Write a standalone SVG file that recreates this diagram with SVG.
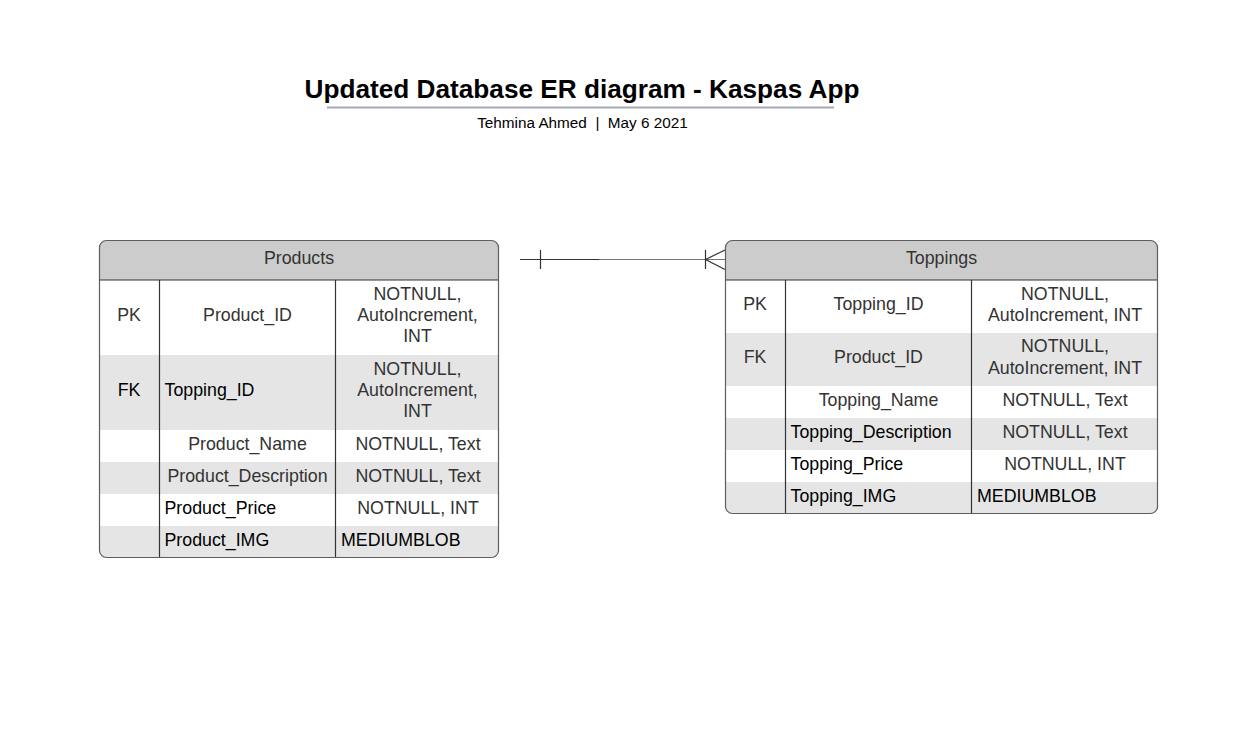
<svg xmlns="http://www.w3.org/2000/svg" width="1259" height="737" viewBox="0 0 1259 737">
<style>
text{font-family:"Liberation Sans",Arial,sans-serif;}
.t{font-size:17.8px;fill:#333333;}
.k{font-size:17.8px;fill:#000000;}
.c{text-anchor:middle;}
.hdr{fill:#cccccc;}
.alt{fill:#e5e5e5;}
.frame{fill:none;stroke:#5e5e5e;stroke-width:1.2;}
.div{stroke:#333333;stroke-width:1.2;}
.conn{fill:none;stroke:#333333;stroke-width:1.2;}
</style>
<rect width="1259" height="737" fill="#ffffff"/>
<g id="title">
<text x="582" y="98" text-anchor="middle" font-size="26.2" font-weight="bold" fill="#000">Updated Database ER diagram - Kaspas App</text>
<line x1="327" y1="107.5" x2="834" y2="107.5" stroke="#a3a9b5" stroke-width="2"/>
<text x="582.5" y="128" text-anchor="middle" font-size="15.3" fill="#000" xml:space="preserve">Tehmina Ahmed  |  May 6 2021</text>
</g>
<g id="products">
<clipPath id="cp1"><rect x="99.5" y="240.5" width="399" height="317" rx="7"/></clipPath>
<g clip-path="url(#cp1)">
<rect x="99" y="240" width="400" height="40" class="hdr"/>
<rect x="99" y="280" width="400" height="75" fill="#fff"/>
<rect x="99" y="355" width="400" height="75" class="alt"/>
<rect x="99" y="430" width="400" height="32" fill="#fff"/>
<rect x="99" y="462" width="400" height="32" class="alt"/>
<rect x="99" y="494" width="400" height="32" fill="#fff"/>
<rect x="99" y="526" width="400" height="32" class="alt"/>
</g>
<line x1="99" y1="280" x2="499" y2="280" class="div"/>
<line x1="159.5" y1="280" x2="159.5" y2="558" class="div"/>
<line x1="335.5" y1="280" x2="335.5" y2="558" class="div"/>
<rect x="99.5" y="240.5" width="399" height="317" rx="7" class="frame"/>
<text x="299" y="264" class="t c">Products</text>
<text x="129" y="321" class="t c">PK</text>
<text x="247.5" y="321" class="t c">Product_ID</text>
<text x="417.5" y="300" class="t c">NOTNULL,</text>
<text x="417.5" y="321" class="t c">AutoIncrement,</text>
<text x="417.5" y="342" class="t c">INT</text>
<text x="129" y="396" class="k c">FK</text>
<text x="164.5" y="396" class="k">Topping_ID</text>
<text x="417.5" y="375" class="t c">NOTNULL,</text>
<text x="417.5" y="396" class="t c">AutoIncrement,</text>
<text x="417.5" y="417" class="t c">INT</text>
<text x="247.5" y="450" class="t c">Product_Name</text>
<text x="418" y="450" class="t c">NOTNULL, Text</text>
<text x="247.5" y="482" class="t c">Product_Description</text>
<text x="418" y="482" class="t c">NOTNULL, Text</text>
<text x="164.5" y="514" class="k">Product_Price</text>
<text x="418" y="514" class="t c">NOTNULL, INT</text>
<text x="164.5" y="546" class="k">Product_IMG</text>
<text x="341" y="546" class="k">MEDIUMBLOB</text>
</g>
<g id="toppings">
<clipPath id="cp2"><rect x="725.5" y="240.5" width="432" height="273" rx="7"/></clipPath>
<g clip-path="url(#cp2)">
<rect x="725" y="240" width="433" height="40" class="hdr"/>
<rect x="725" y="280" width="433" height="53" fill="#fff"/>
<rect x="725" y="333" width="433" height="53" class="alt"/>
<rect x="725" y="386" width="433" height="32" fill="#fff"/>
<rect x="725" y="418" width="433" height="32" class="alt"/>
<rect x="725" y="450" width="433" height="32" fill="#fff"/>
<rect x="725" y="482" width="433" height="32" class="alt"/>
</g>
<line x1="725" y1="280" x2="1158" y2="280" class="div"/>
<line x1="785.5" y1="280" x2="785.5" y2="514" class="div"/>
<line x1="971.5" y1="280" x2="971.5" y2="514" class="div"/>
<rect x="725.5" y="240.5" width="432" height="273" rx="7" class="frame"/>
<text x="941.5" y="264" class="t c">Toppings</text>
<text x="755" y="310" class="t c">PK</text>
<text x="878.5" y="310" class="t c">Topping_ID</text>
<text x="1065" y="300" class="t c">NOTNULL,</text>
<text x="1065" y="321" class="t c">AutoIncrement, INT</text>
<text x="755" y="363" class="t c">FK</text>
<text x="878.5" y="363" class="t c">Product_ID</text>
<text x="1065" y="352" class="t c">NOTNULL,</text>
<text x="1065" y="374" class="t c">AutoIncrement, INT</text>
<text x="878.5" y="406" class="t c">Topping_Name</text>
<text x="1065" y="406" class="t c">NOTNULL, Text</text>
<text x="790.5" y="438" class="k">Topping_Description</text>
<text x="1065" y="438" class="t c">NOTNULL, Text</text>
<text x="790.5" y="470" class="k">Topping_Price</text>
<text x="1065" y="470" class="t c">NOTNULL, INT</text>
<text x="790.5" y="502" class="k">Topping_IMG</text>
<text x="977" y="502" class="k">MEDIUMBLOB</text>
</g>
<g id="connectors">
<line x1="520" y1="259.5" x2="599" y2="259.5" class="conn"/>
<line x1="599" y1="259.5" x2="725" y2="259.5" stroke="#777777" stroke-width="1.2"/>
<line x1="540.5" y1="250" x2="540.5" y2="269" class="conn"/>
<line x1="705.5" y1="250" x2="705.5" y2="269" class="conn"/>
<path d="M725,250 L705.5,259.5 L725,269.5" class="conn"/>
</g>
</svg>
